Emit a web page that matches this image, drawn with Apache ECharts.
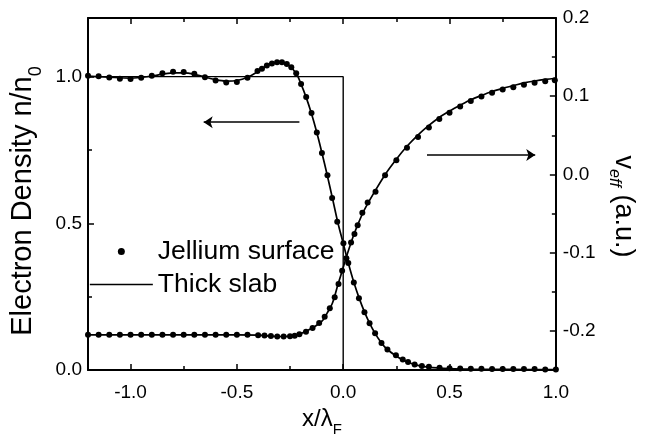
<!DOCTYPE html>
<html>
<head>
<meta charset="utf-8">
<script src="https://cdn.jsdelivr.net/npm/echarts@6/dist/echarts.min.js"></script>
<style>
  html, body { margin: 0; padding: 0; background: #fff; }
  #chart { width: 645px; height: 443px; }
</style>
</head>
<body>
<div id="chart"></div>
<script>
// Jellium surface: electron density n/n0 (left axis)
const jelliumDensityX = [
  -1.20, -1.15, -1.10, -1.05, -1.00, -0.95, -0.90, -0.85, -0.80, -0.75,
  -0.70, -0.65, -0.60, -0.55, -0.50, -0.45, -0.403, -0.382, -0.359, -0.335,
  -0.311, -0.288, -0.265, -0.244, -0.221, -0.198, -0.174, -0.149, -0.124, -0.100,
  -0.074, -0.052, -0.028, 0.001, 0.024, 0.050, 0.074, 0.100, 0.124, 0.150,
  0.180, 0.208, 0.248, 0.280, 0.305, 0.336, 0.370, 0.403, 0.453, 0.50,
  0.55, 0.60, 0.65, 0.70, 0.75, 0.80, 0.85, 0.90, 0.95, 1.00
];
const jelliumDensity = [
  1.003, 1.001, 0.997, 0.993, 0.992, 0.996, 1.003, 1.012, 1.017, 1.016,
  1.010, 0.998, 0.987, 0.980, 0.982, 0.996, 1.019, 1.027, 1.038, 1.045,
  1.049, 1.049, 1.043, 1.032, 1.012, 0.975, 0.931, 0.876, 0.810, 0.740,
  0.664, 0.586, 0.505, 0.432, 0.365, 0.298, 0.245, 0.197, 0.159, 0.125,
  0.092, 0.070, 0.050, 0.036, 0.027, 0.019, 0.014, 0.011, 0.008, 0.006,
  0.005, 0.004, 0.004, 0.003, 0.003, 0.003, 0.003, 0.003, 0.002, 0.002
];

// Jellium surface: effective potential v_eff (right axis)
const jelliumPotX = [
  -1.20, -1.15, -1.10, -1.05, -1.00, -0.95, -0.90, -0.85, -0.80, -0.75,
  -0.70, -0.65, -0.60, -0.55, -0.50, -0.45, -0.40, -0.37, -0.34, -0.31,
  -0.28, -0.25, -0.228, -0.206, -0.175, -0.144, -0.113, -0.087, -0.063, -0.040,
  -0.022, -0.005, 0.015, 0.037, 0.053, 0.068, 0.090, 0.115, 0.152, 0.197,
  0.250, 0.300, 0.352, 0.403, 0.452, 0.500, 0.550, 0.600, 0.650, 0.700,
  0.750, 0.800, 0.850, 0.900, 0.950, 0.995
];
const jelliumPot = [
  -0.205, -0.205, -0.205, -0.205, -0.205, -0.205, -0.205, -0.205, -0.205, -0.205,
  -0.205, -0.205, -0.205, -0.205, -0.205, -0.205, -0.2055, -0.206, -0.2066, -0.2072,
  -0.2072, -0.2068, -0.2062, -0.2042, -0.2010, -0.1962, -0.1900, -0.1820, -0.1710, -0.1570,
  -0.1400, -0.1230, -0.1070, -0.0870, -0.0760, -0.0650, -0.0490, -0.0360, -0.0220, -0.0010,
  0.0180, 0.0340, 0.0480, 0.0600, 0.0710, 0.0790, 0.0868, 0.0940, 0.0995, 0.1043,
  0.1085, 0.1115, 0.1148, 0.1172, 0.1190, 0.1205
];

// Thick slab: electron density (left axis)
const slabDensityX = [
  -1.20, -1.10, -1.00, -0.90, -0.80, -0.75, -0.70, -0.60, -0.55, -0.50,
  -0.45, -0.40, -0.35, -0.30, -0.26, -0.22, -0.20, -0.175, -0.15, -0.125,
  -0.10, -0.075, -0.05, -0.025, 0.00, 0.025, 0.05, 0.075, 0.10, 0.125,
  0.15, 0.175, 0.20, 0.25, 0.30, 0.35, 0.40, 0.50, 0.60, 0.80, 1.00
];
const slabDensity = [
  1.002, 0.998, 0.995, 1.002, 1.013, 1.013, 1.008, 0.990, 0.985, 0.987,
  0.998, 1.018, 1.041, 1.049, 1.041, 1.010, 0.978, 0.931, 0.876, 0.812,
  0.740, 0.664, 0.584, 0.502, 0.432, 0.362, 0.299, 0.245, 0.198, 0.158,
  0.125, 0.097, 0.075, 0.047, 0.028, 0.016, 0.010, 0.005, 0.003, 0.002, 0.001
];

// Thick slab: effective potential (right axis)
const slabPotX = [
  -1.20, -0.50, -0.40, -0.30, -0.25, -0.20, -0.15, -0.10, -0.075, -0.05,
  -0.025, 0.00, 0.025, 0.05, 0.075, 0.10, 0.15, 0.20, 0.25, 0.30,
  0.35, 0.40, 0.45, 0.50, 0.55, 0.60, 0.65, 0.70, 0.75, 0.80,
  0.85, 0.90, 0.95, 1.00
];
const slabPot = [
  -0.205, -0.205, -0.2055, -0.2072, -0.2070, -0.2035, -0.1970, -0.1875, -0.1770, -0.1640,
  -0.1410, -0.1190, -0.0970, -0.0770, -0.0600, -0.0450, -0.0210, 0.0010, 0.0195, 0.0360,
  0.0500, 0.0620, 0.0725, 0.0810, 0.0885, 0.0955, 0.1010, 0.1060, 0.1100, 0.1135,
  0.1170, 0.1195, 0.1215, 0.1230
];

// Positive background of the jellium (step edge at x = 0)
const stepX = [-1.2, 0.0, 0.0];
const stepY = [1.0, 1.0, 0.0];

// Arrows telling which axis each curve belongs to (data coordinates)
const densityArrow = [[-0.206, 0.845], [-0.656, 0.845]];
const potentialArrow = [[0.394, 0.0248], [0.903, 0.0248]];

// Tick labels and tick spacing
const xLabels = [-1.0, -0.5, 0.0, 0.5, 1.0];
const nLabels = [0.0, 0.5, 1.0];
const vLabels = [-0.2, -0.1, 0.0, 0.1, 0.2];
const xStep = 0.5, nStep = 0.5, vStep = 0.1;

const FONT = '"Liberation Sans", Arial, Helvetica, sans-serif';
const INK = '#000';

function zip(xs, ys) { return xs.map((x, i) => [x, ys[i]]); }

// Axis factory. Ticks fall on multiples of `step` (pinned through
// minInterval/maxInterval so that they stay aligned to round values);
// a "minor" axis only adds short inward ticks at half that step.
function axis(pos, min, max, step, opts) {
  opts = opts || {};
  const s = opts.minor ? step / 2 : step;
  return Object.assign({
    type: 'value',
    gridIndex: 0,
    position: pos,
    min: min,
    max: max,
    minInterval: s,
    maxInterval: s,
    splitLine: { show: false },
    axisLine: {
      show: !!opts.line,
      onZero: false,
      lineStyle: { color: INK, width: 2 }
    },
    axisTick: {
      show: true,
      inside: true,
      length: opts.minor ? 4 : 6,
      lineStyle: { color: INK, width: 1.5 }
    },
    axisLabel: opts.labels ? {
      show: true,
      customValues: opts.labels,
      formatter: v => v.toFixed(1),
      fontSize: 19,
      fontFamily: FONT,
      color: INK,
      margin: opts.margin
    } : { show: false }
  }, opts.extra || {});
}

const chart = echarts.init(document.getElementById('chart'), null, { renderer: 'canvas' });

chart.setOption({
  animation: false,
  backgroundColor: '#fff',
  grid: { left: 88, right: 84, top: 18, bottom: 73 },
  legend: {
    orient: 'vertical',
    left: 89,
    top: 238,
    padding: 0,
    itemGap: 6,
    itemWidth: 63,
    itemHeight: 7,
    selectedMode: false,
    textStyle: { fontSize: 26.5, fontFamily: FONT, color: INK },
    data: [
      { name: 'Jellium surface', icon: 'circle', itemStyle: { color: INK, opacity: 1 } },
      { name: 'Thick slab', itemStyle: { opacity: 0 }, lineStyle: { color: INK, width: 1.7, opacity: 1 } }
    ]
  },
  xAxis: [
    axis('bottom', -1.2, 1.0, xStep, {
      line: true, labels: xLabels, margin: 13,
      extra: {
        name: '{a|x/λ}{b|F}',
        nameLocation: 'middle',
        nameGap: 19,
        nameTextStyle: {
          rich: {
            a: { fontSize: 24, fontFamily: FONT, color: INK, lineHeight: 36 },
            b: { fontSize: 15, fontFamily: FONT, color: INK, verticalAlign: 'bottom' }
          }
        }
      }
    }),
    axis('bottom', -1.2, 1.0, xStep, { minor: true }),
    axis('top', -1.2, 1.0, xStep, { line: true }),
    axis('top', -1.2, 1.0, xStep, { minor: true })
  ],
  yAxis: [
    axis('left', 0, 1.2, nStep, {
      line: true, labels: nLabels, margin: 6,
      extra: {
        name: '{a|Electron Density n/n}{b|0}',
        nameLocation: 'middle',
        nameGap: 40,
        nameRotate: 90,
        nameTextStyle: {
          padding: [0, 14, 0, 0],
          rich: {
            a: { fontSize: 29, fontFamily: FONT, color: INK, lineHeight: 44 },
            b: { fontSize: 18, fontFamily: FONT, color: INK, verticalAlign: 'bottom' }
          }
        }
      }
    }),
    axis('right', -0.25, 0.2, vStep, {
      line: true, labels: vLabels, margin: 7,
      extra: {
        name: '{v|v}{e|eff}{a| (a.u.)}',
        nameLocation: 'middle',
        nameGap: 42,
        nameRotate: -90,
        nameTextStyle: {
          padding: [0, 0, 0, 25],
          rich: {
            v: { fontSize: 27, fontFamily: FONT, color: INK, lineHeight: 34 },
            e: { fontSize: 16, fontFamily: FONT, color: INK, fontStyle: 'italic', verticalAlign: 'bottom' },
            a: { fontSize: 27, fontFamily: FONT, color: INK, lineHeight: 34 }
          }
        }
      }
    }),
    axis('left', 0, 1.2, nStep, { minor: true }),
    axis('right', -0.25, 0.2, vStep, { minor: true })
  ],
  series: [
    {
      name: 'background',
      type: 'line',
      xAxisIndex: 0, yAxisIndex: 0,
      data: zip(stepX, stepY),
      symbol: 'none',
      silent: true,
      lineStyle: { color: INK, width: 1.4 },
      z: 2
    },
    {
      name: 'Thick slab',
      type: 'line',
      xAxisIndex: 0, yAxisIndex: 0,
      data: zip(slabDensityX, slabDensity),
      smooth: 0.3,
      symbol: 'none',
      color: INK,
      lineStyle: { color: INK, width: 1.7 },
      z: 3
    },
    {
      name: 'Thick slab',
      type: 'line',
      xAxisIndex: 0, yAxisIndex: 1,
      data: zip(slabPotX, slabPot),
      smooth: 0.3,
      symbol: 'none',
      color: INK,
      lineStyle: { color: INK, width: 1.7 },
      z: 3
    },
    {
      name: 'Jellium surface',
      type: 'scatter',
      xAxisIndex: 0, yAxisIndex: 0,
      data: zip(jelliumDensityX, jelliumDensity),
      symbol: 'circle',
      symbolSize: 6,
      itemStyle: { color: INK, opacity: 1 },
      z: 4
    },
    {
      name: 'Jellium surface',
      type: 'scatter',
      xAxisIndex: 0, yAxisIndex: 1,
      data: zip(jelliumPotX, jelliumPot),
      symbol: 'circle',
      symbolSize: 6,
      itemStyle: { color: INK, opacity: 1 },
      z: 4
    },
    {
      name: 'density arrow',
      type: 'lines',
      coordinateSystem: 'cartesian2d',
      xAxisIndex: 0, yAxisIndex: 0,
      symbol: ['none', 'arrow'],
      symbolSize: 9,
      silent: true,
      lineStyle: { color: INK, width: 1.6, opacity: 1 },
      data: [{ coords: densityArrow }]
    },
    {
      name: 'potential arrow',
      type: 'lines',
      coordinateSystem: 'cartesian2d',
      xAxisIndex: 0, yAxisIndex: 1,
      symbol: ['none', 'arrow'],
      symbolSize: 9,
      silent: true,
      lineStyle: { color: INK, width: 1.6, opacity: 1 },
      data: [{ coords: potentialArrow }]
    }
  ]
});
</script>
</body>
</html>
